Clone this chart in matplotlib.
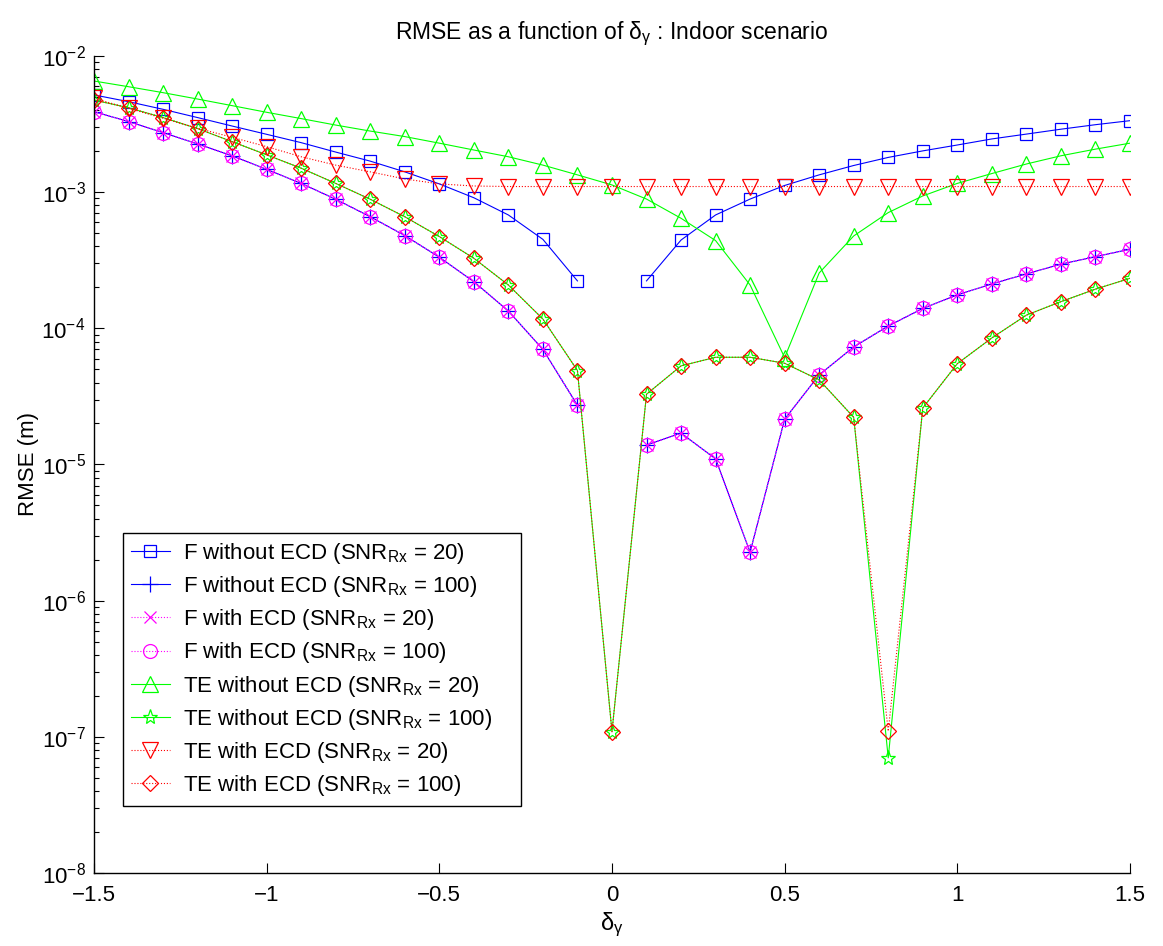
import numpy as np
import matplotlib
matplotlib.use("Agg")
import matplotlib.pyplot as plt
from matplotlib.ticker import FixedLocator, NullFormatter, LogFormatterSciNotation

plt.rcParams['font.family'] = ['Liberation Sans', 'DejaVu Sans']
plt.rcParams['mathtext.fontset'] = 'custom'
plt.rcParams['mathtext.rm'] = 'Liberation Sans'
plt.rcParams['mathtext.it'] = 'Liberation Sans:italic'
plt.rcParams['mathtext.bf'] = 'Liberation Sans:bold'

nan = np.nan
delta = [-1.5, -1.4, -1.3, -1.2, -1.1, -1.0, -0.9, -0.8, -0.7, -0.6, -0.5,
         -0.4, -0.3, -0.2, -0.1, 0.0, 0.1, 0.2, 0.3, 0.4, 0.5,
         0.6, 0.7, 0.8, 0.9, 1.0, 1.1, 1.2, 1.3, 1.4, 1.5]

f_woecd_20 = [5.18e-3, 4.62e-3, 4.06e-3, 3.53e-3, 3.06e-3, 2.66e-3, 2.31e-3, 1.97e-3, 1.69e-3, 1.41e-3, 1.15e-3,
              9.1e-4, 6.8e-4, 4.5e-4, 2.23e-4, nan, 2.23e-4, 4.45e-4, 6.8e-4, 8.9e-4, 1.12e-3,
              1.34e-3, 1.57e-3, 1.80e-3, 2.01e-3, 2.22e-3, 2.46e-3, 2.67e-3, 2.90e-3, 3.13e-3, 3.35e-3]
f_woecd_100 = [3.9e-3, 3.30e-3, 2.74e-3, 2.26e-3, 1.85e-3, 1.47e-3, 1.16e-3, 8.87e-4, 6.6e-4, 4.8e-4, 3.33e-4,
               2.2e-4, 1.34e-4, 7.0e-5, 2.72e-5, nan, 1.39e-5, 1.70e-5, 1.10e-5, 2.27e-6, 2.15e-5,
               4.55e-5, 7.3e-5, 1.04e-4, 1.40e-4, 1.76e-4, 2.12e-4, 2.51e-4, 2.96e-4, 3.36e-4, 3.81e-4]
f_wecd_20 = [3.9e-3, 3.30e-3, 2.74e-3, 2.26e-3, 1.85e-3, 1.47e-3, 1.16e-3, 8.87e-4, 6.6e-4, 4.8e-4, 3.33e-4,
             2.2e-4, 1.34e-4, 7.0e-5, 2.72e-5, nan, 1.39e-5, 1.70e-5, 1.10e-5, 2.27e-6, 2.15e-5,
             4.55e-5, 7.3e-5, 1.04e-4, 1.40e-4, 1.76e-4, 2.12e-4, 2.51e-4, 2.96e-4, 3.36e-4, 3.81e-4]
f_wecd_100 = [3.9e-3, 3.30e-3, 2.74e-3, 2.26e-3, 1.85e-3, 1.47e-3, 1.16e-3, 8.87e-4, 6.6e-4, 4.8e-4, 3.33e-4,
              2.2e-4, 1.34e-4, 7.0e-5, 2.72e-5, nan, 1.39e-5, 1.70e-5, 1.10e-5, 2.27e-6, 2.15e-5,
              4.55e-5, 7.3e-5, 1.04e-4, 1.40e-4, 1.76e-4, 2.12e-4, 2.51e-4, 2.96e-4, 3.36e-4, 3.81e-4]
te_woecd_20 = [6.55e-3, 5.95e-3, 5.38e-3, 4.83e-3, 4.32e-3, 3.86e-3, 3.47e-3, 3.11e-3, 2.81e-3, 2.56e-3, 2.29e-3,
               2.04e-3, 1.82e-3, 1.58e-3, 1.34e-3, 1.13e-3, 8.9e-4, 6.43e-4, 4.41e-4, 2.08e-4, 6.1e-5,
               2.55e-4, 4.77e-4, 7.08e-4, 9.38e-4, 1.16e-3, 1.37e-3, 1.61e-3, 1.85e-3, 2.07e-3, 2.29e-3]
te_woecd_100 = [4.75e-3, 4.17e-3, 3.53e-3, 2.93e-3, 2.35e-3, 1.88e-3, 1.50e-3, 1.16e-3, 8.87e-4, 6.6e-4, 4.72e-4,
                3.27e-4, 2.08e-4, 1.17e-4, 4.9e-5, 1.09e-7, 3.28e-5, 5.3e-5, 6.13e-5, 6.13e-5, 5.54e-5,
                4.18e-5, 2.22e-5, 7.0e-8, 2.6e-5, 5.5e-5, 8.5e-5, 1.25e-4, 1.57e-4, 1.94e-4, 2.33e-4]
te_wecd_20 = [4.89e-3, 4.13e-3, 3.49e-3, 2.95e-3, 2.53e-3, 2.16e-3, 1.82e-3, 1.58e-3, 1.41e-3, 1.25e-3, 1.15e-3,
              1.11e-3, 1.10e-3, 1.10e-3, 1.10e-3, 1.10e-3, 1.10e-3, 1.10e-3, 1.10e-3, 1.10e-3, 1.10e-3,
              1.10e-3, 1.10e-3, 1.10e-3, 1.10e-3, 1.10e-3, 1.10e-3, 1.10e-3, 1.10e-3, 1.10e-3, 1.10e-3]
te_wecd_100 = [4.75e-3, 4.17e-3, 3.53e-3, 2.93e-3, 2.35e-3, 1.88e-3, 1.50e-3, 1.16e-3, 8.87e-4, 6.6e-4, 4.72e-4,
               3.27e-4, 2.08e-4, 1.17e-4, 4.9e-5, 1.09e-7, 3.28e-5, 5.3e-5, 6.13e-5, 6.13e-5, 5.54e-5,
               4.18e-5, 2.22e-5, 1.1e-7, 2.6e-5, 5.5e-5, 8.5e-5, 1.25e-4, 1.57e-4, 1.94e-4, 2.33e-4]

x_ticks = [-1.5, -1, -0.5, 0, 0.5, 1, 1.5]
x_ticklabels = ['\u22121.5', '\u22121', '\u22120.5', '0', '0.5', '1', '1.5']
y_ticks = [1e-8, 1e-7, 1e-6, 1e-5, 1e-4, 1e-3, 1e-2]

labels = [r'F without ECD (SNR$_{\mathrm{Rx}}$ = 20)',
          r'F without ECD (SNR$_{\mathrm{Rx}}$ = 100)',
          r'F with ECD (SNR$_{\mathrm{Rx}}$ = 20)',
          r'F with ECD (SNR$_{\mathrm{Rx}}$ = 100)',
          r'TE without ECD (SNR$_{\mathrm{Rx}}$ = 20)',
          r'TE without ECD (SNR$_{\mathrm{Rx}}$ = 100)',
          r'TE with ECD (SNR$_{\mathrm{Rx}}$ = 20)',
          r'TE with ECD (SNR$_{\mathrm{Rx}}$ = 100)']

series = [f_woecd_20, f_woecd_100, f_wecd_20, f_wecd_100,
          te_woecd_20, te_woecd_100, te_wecd_20, te_wecd_100]
styles = [('#0000ff', '-', 's', 8), ('#0000ff', '-', '+', 11), ('#ff00ff', ':', 'x', 8), ('#ff00ff', ':', 'o', 10),
          ('#00ff00', '-', '^', 11), ('#00ff00', '-', '*', 11), ('#ff0000', ':', 'v', 11), ('#ff0000', ':', 'D', 8)]

fig = plt.figure(figsize=(11.63, 9.46), dpi=100)
ax = fig.add_axes([0.0808, 0.0772, 0.8908, 0.8636])

for ys, lab, (c, ls, m, ms) in zip(series, labels, styles):
    ax.plot(delta, ys, color=c, linestyle=ls, marker=m, markersize=ms,
            markerfacecolor='none', markeredgecolor=c, markeredgewidth=0.9,
            linewidth=0.8, label=lab)

ax.set_yscale('log')
ax.set_xlim(-1.5, 1.5)
ax.set_ylim(1e-8, 1e-2)
ax.xaxis.set_major_locator(FixedLocator(x_ticks))
ax.set_xticklabels(x_ticklabels)
ax.yaxis.set_major_locator(FixedLocator(y_ticks))
ax.yaxis.set_major_formatter(LogFormatterSciNotation())
minor = [m * d for d in y_ticks[:-1] for m in range(2, 10)]
ax.yaxis.set_minor_locator(FixedLocator(minor))
ax.yaxis.set_minor_formatter(NullFormatter())

for s in ['top', 'right']:
    ax.spines[s].set_visible(False)
for s in ['left', 'bottom']:
    ax.spines[s].set_linewidth(1.0)
ax.tick_params(which='both', direction='in', labelsize=16)
ax.tick_params(which='major', length=7, width=0.8)
ax.tick_params(which='minor', length=3.6, width=0.8)
ax.tick_params(axis='x', pad=9)
ax.tick_params(axis='y', pad=6)

ax.set_title(r'RMSE as a function of $\mathrm{\delta_{\gamma}}$ : Indoor scenario', fontsize=16.5, pad=12)
ax.set_xlabel(r'$\mathrm{\delta_{\gamma}}$', fontsize=17, labelpad=3)
ax.set_ylabel('RMSE (m)', fontsize=16, labelpad=2)

leg = ax.legend(loc='lower left', bbox_to_anchor=(0.028, 0.082, 0.384, 0.3), mode='expand',
                fontsize=16, frameon=True, fancybox=False, framealpha=1, edgecolor='black',
                borderaxespad=0, handlelength=1.75, labelspacing=0.37, borderpad=0.35,
                handletextpad=0.6)
leg.get_frame().set_linewidth(1.0)

fig.savefig('out.png', dpi=100)
